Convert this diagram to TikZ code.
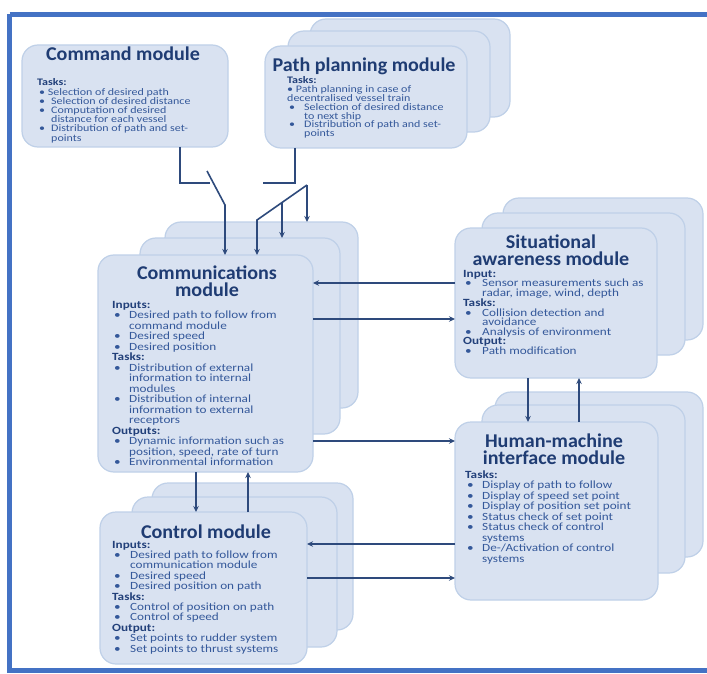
\documentclass[tikz,border=0pt]{standalone}
\usepackage{fontspec}
\setmainfont{Carlito}
\newfontfamily\bodyfont{Carlito}[FakeStretch=1.2]
\newfontfamily\titlefont{Carlito}[FakeStretch=1.03]
\usetikzlibrary{arrows.meta,calc}
\definecolor{boxfill}{HTML}{D9E2F1}
\definecolor{boxline}{HTML}{BFD0E8}
\definecolor{titlec}{HTML}{1F3C73}
\definecolor{headc}{HTML}{22407A}
\definecolor{bodyc}{HTML}{34589A}
\definecolor{linec}{HTML}{2E4A7C}
\definecolor{framec}{HTML}{4472C4}
\newlength\bind
\newlength\bpre
\newcommand{\bodyset}[3]{\bodyfont\fontsize{#1}{#2}\selectfont\setlength\bind{#3pt}\setlength\bpre{2pt}\raggedright}
\newcommand{\hd}[1]{\par\noindent{\bfseries\color{headc}#1}}
\newcommand{\bi}[1]{\par\noindent\hangindent=\bind\hangafter=1\makebox[\bind][l]{\hspace{\bpre}\textbullet}#1}
\begin{document}
\begin{tikzpicture}[x=1pt,y=-1pt,
  box/.style={draw=boxline,fill=boxfill,line width=1.2pt,rounded corners=16pt,inner sep=0pt,outer sep=0pt,anchor=north west},
  ttl/.style={inner sep=0pt,text=titlec,anchor=base,font=\titlefont\bfseries\fontsize{19.5}{17}\selectfont},
  txt/.style={inner sep=0pt,text=bodyc,anchor=base west},
  conn/.style={draw=linec,line width=1.6pt},
  arr/.style={conn,-{Stealth[length=6pt,width=5.5pt]}},
  outerframe/.style={draw=framec,line width=4.5pt}]
\useasboundingbox (0,0) rectangle (707,674);
\fill[white] (0,0) rectangle (707,674);

% ---------- Command module
\node[box,minimum width=206pt,minimum height=102pt] (cmd) at (22,45) {};
\node[ttl] (cmdH) at (123,61) {Command module};
\node[txt] (cmdT) at (37,86) {\parbox[t]{185pt}{\bodyset{10}{9.2}{14}%
\hd{Tasks:}
\par\noindent\hspace{\bpre}\textbullet\ Selection of desired path
\bi{Selection of desired distance}
\bi{Computation of desired\newline distance for each vessel}
\bi{Distribution of path and set-\newline points}}};

% ---------- Path planning module
\node[box,minimum width=200pt,minimum height=98pt] (pth3) at (310,19) {};
\node[box,minimum width=202pt,minimum height=101pt] (pth2) at (288,31) {};
\node[box,minimum width=202pt,minimum height=102pt] (pth) at (265,46) {};
\node[ttl] (pthH) at (364,72) {Path planning module};
\node[txt] (pthT) at (287,84) {\parbox[t]{175pt}{\bodyset{10}{8.8}{17}%
\hd{Tasks:}
\par\noindent\textbullet\ Path planning in case of\newline decentralised vessel train
\bi{Selection of desired distance\newline to next ship}
\bi{Distribution of path and set-\newline points}}};

% ---------- Communications module
\node[box,minimum width=193pt,minimum height=186pt] (comm3) at (165,222) {};
\node[box,minimum width=200pt,minimum height=196pt] (comm2) at (140,238) {};
\node[box,minimum width=215pt,minimum height=217pt] (comm) at (98,255) {};
\node[ttl] (commH) at (207,279) {\parbox[t]{200pt}{\centering Communications\\module}};
\node[txt] (commT) at (112,308) {\parbox[t]{195pt}{\bodyset{11}{10.5}{17}%
\hd{Inputs:}
\bi{Desired path to follow from\newline command module}
\bi{Desired speed}
\bi{Desired position}
\hd{Tasks:}
\bi{Distribution of external\newline information to internal\newline modules}
\bi{Distribution of internal\newline information to external\newline receptors}
\hd{Outputs:}
\bi{Dynamic information such as\newline position, speed, rate of turn}
\bi{Environmental information}}};

% ---------- Situational awareness module
\node[box,minimum width=200pt,minimum height=142pt] (sa3) at (503,198) {};
\node[box,minimum width=203pt,minimum height=142pt] (sa2) at (482,213) {};
\node[box,minimum width=202pt,minimum height=150pt] (sa) at (455,228) {};
\node[ttl] (saH) at (551,248) {\parbox[t]{200pt}{\centering Situational\\awareness module}};
\node[txt] (saT) at (463,277) {\parbox[t]{190pt}{\bodyset{11}{9.5}{19}%
\hd{Input:}
\bi{Sensor measurements such as\newline radar, image, wind, depth}
\hd{Tasks:}
\bi{Collision detection and\newline avoidance}
\bi{Analysis of environment}
\hd{Output:}
\bi{Path modification}}};

% ---------- Human-machine interface module
\node[box,minimum width=208pt,minimum height=165pt] (hmi3) at (495,392) {};
\node[box,minimum width=203pt,minimum height=168pt] (hmi2) at (482,405) {};
\node[box,minimum width=203pt,minimum height=178pt] (hmi) at (455,422) {};
\node[ttl] (hmiH) at (554,447) {\parbox[t]{200pt}{\centering Human-machine\\interface module}};
\node[txt] (hmiT) at (465,478) {\parbox[t]{185pt}{\bodyset{11}{10.5}{17}%
\hd{Tasks:}
\bi{Display of path to follow}
\bi{Display of speed set point}
\bi{Display of position set point}
\bi{Status check of set point}
\bi{Status check of control\newline systems}
\bi{De-/Activation of control\newline systems}}};

% ---------- Control module
\node[box,minimum width=201pt,minimum height=147pt] (ctl3) at (152,483) {};
\node[box,minimum width=205pt,minimum height=150pt] (ctl2) at (132,497) {};
\node[box,minimum width=207pt,minimum height=152pt] (ctl) at (100,512) {};
\node[ttl] (ctlH) at (206,538) {Control module};
\node[txt] (ctlT) at (112,548) {\parbox[t]{190pt}{\bodyset{11}{10.4}{18}%
\hd{Inputs:}
\bi{Desired path to follow from\newline communication module}
\bi{Desired speed}
\bi{Desired position on path}
\hd{Tasks:}
\bi{Control of position on path}
\bi{Control of speed}
\hd{Output:}
\bi{Set points to rudder system}
\bi{Set points to thrust systems}}};

% ---------- Connectors: command module switch
\coordinate (c1) at ([xshift=158pt]cmd.south west);
\coordinate (c1k) at (180,183);
\coordinate (c1e) at (210,183);
\draw[conn] (c1) -- (c1k) -- (c1e);
\coordinate (sw1) at (207,171);
\coordinate (sw2) at (225,205);
\draw[arr] (sw1) -- (sw2) -- (sw2 |- comm.north);

% path planning switch
\coordinate (c2) at ([xshift=30pt]pth.south west);
\coordinate (c2k) at (295,183);
\coordinate (c2e) at (263,183);
\draw[conn] (c2) -- (c2k) -- (c2e);
\coordinate (sw3) at (307,185);
\coordinate (sw4) at (257,220);
\coordinate (sw5) at ($(sw3)!0.5!(sw4)$);
\draw[arr] (sw3) -- (sw4) -- (sw4 |- comm.north);
\draw[arr] (sw5) -- (sw5 |- comm2.north);
\draw[arr] (sw3) -- (sw3 |- comm3.north);

% communications <-> situational awareness / HMI
\coordinate (a1) at ([yshift=-55pt]sa.north west);
\draw[arr] (a1) -- (a1 -| comm.east);
\coordinate (a2) at ([yshift=-64pt]comm.north east);
\draw[arr] (a2) -- (a2 -| sa.west);
\coordinate (a3) at ([yshift=-186pt]comm.north east);
\draw[arr] (a3) -- (a3 -| hmi.west);

% situational awareness <-> HMI
\coordinate (a4) at ([xshift=73pt]sa.south west);
\draw[arr] (a4) -- (a4 |- hmi.north);
\coordinate (a5) at ([xshift=124pt]hmi.north west);
\draw[arr] (a5) -- (a5 |- sa.south);

% communications <-> control
\coordinate (a6) at ([xshift=98pt]comm.south west);
\draw[arr] (a6) -- (a6 |- ctl.north);
\coordinate (a7) at ([xshift=148pt]ctl.north west);
\draw[arr] (a7) -- (a7 |- comm.south);

% HMI <-> control
\coordinate (a8) at ([yshift=-122pt]hmi.north west);
\draw[arr] (a8) -- (a8 -| ctl.east);
\coordinate (a9) at ([yshift=-66pt]ctl.north east);
\draw[arr] (a9) -- (a9 -| hmi.west);

% outer frame
\draw[outerframe] (9.5,14.5) -- (740,14.5);
\draw[outerframe] (9.5,14.5) -- (9.5,670.5) -- (740,670.5);
\end{tikzpicture}
\end{document}
